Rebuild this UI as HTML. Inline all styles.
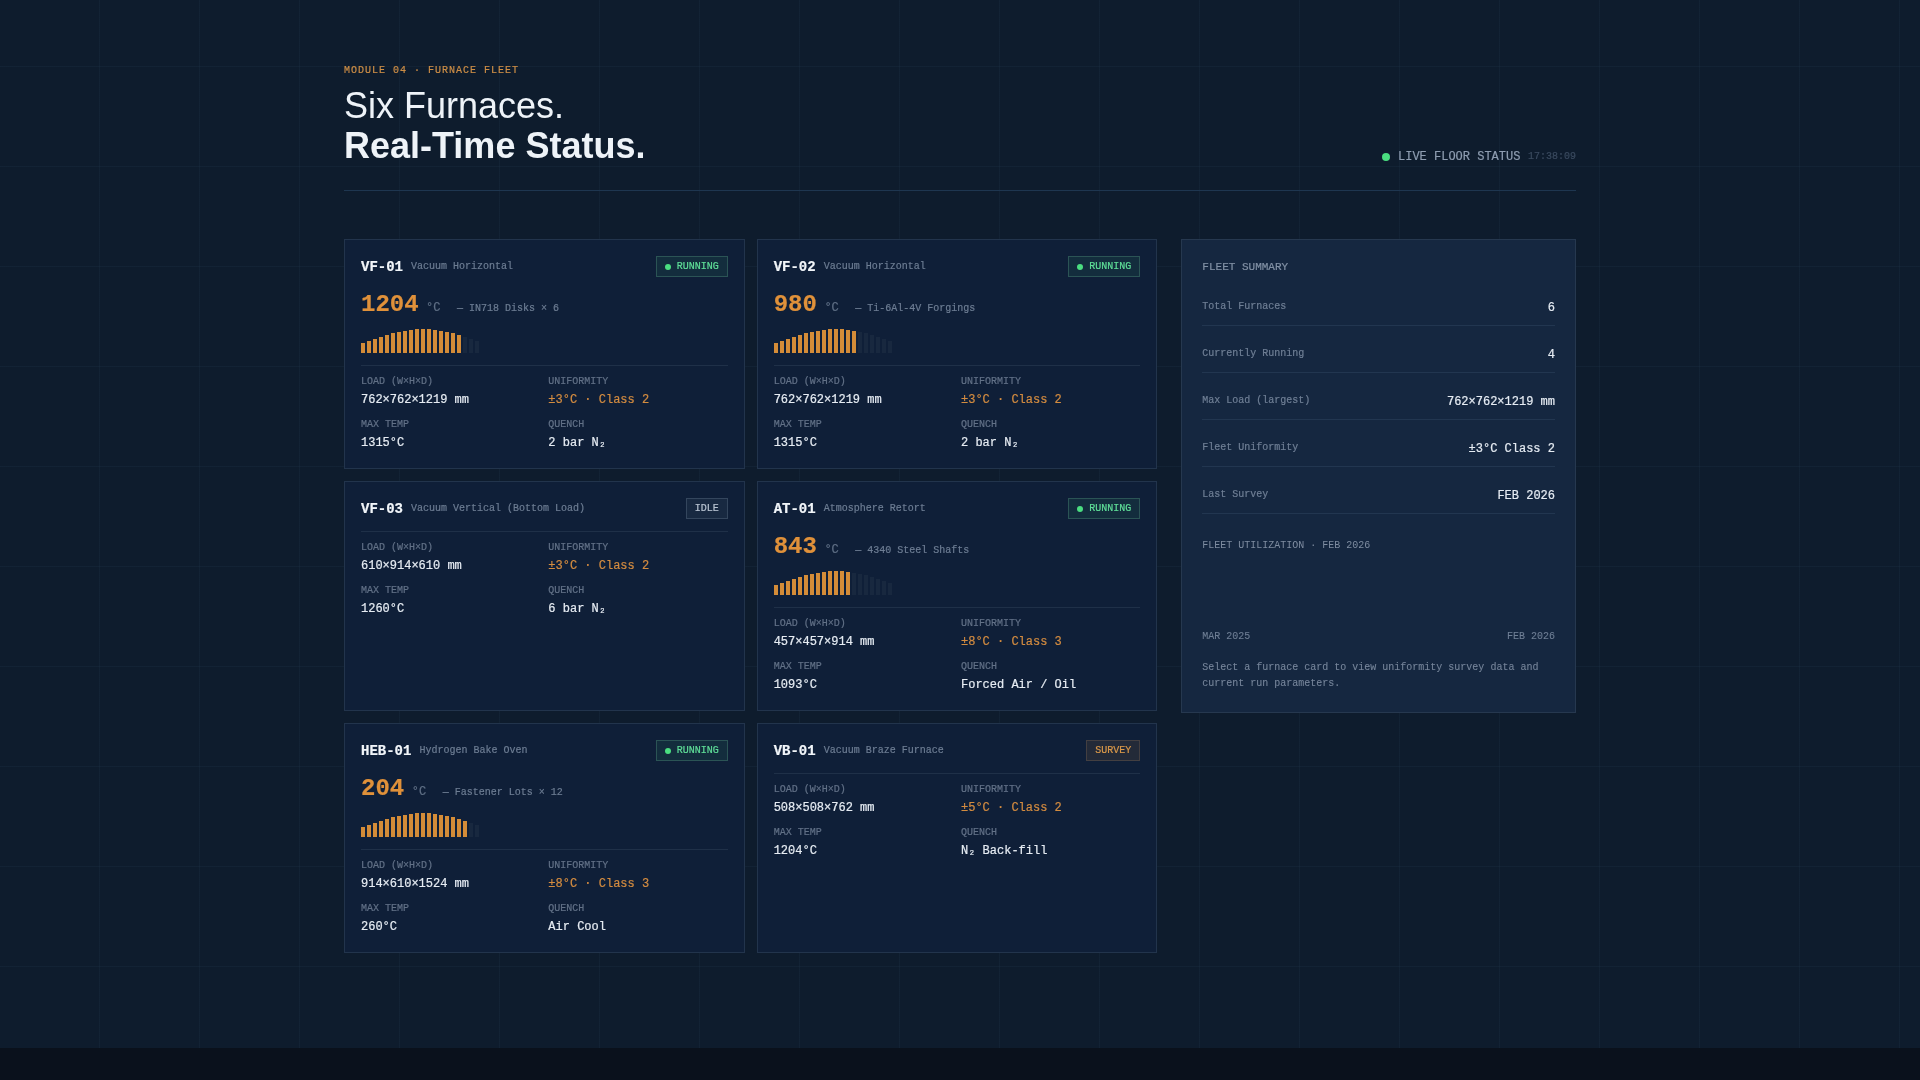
<!DOCTYPE html>
<html><head><meta charset="utf-8">
<style>
*{box-sizing:border-box;margin:0;padding:0}
html,body{width:1920px;height:1080px;overflow:hidden;background:#0a111c}
body{position:relative;font-family:"Liberation Mono",monospace;color:#e6ecf3;will-change:transform;-webkit-text-stroke-width:0.2px}
.h1{-webkit-text-stroke-width:0}
.sec{position:absolute;left:0;top:0;width:1920px;height:1048px;background-color:#0e1c2d;
background-image:linear-gradient(to right, rgba(110,150,190,0.05) 1px, transparent 1px),linear-gradient(to bottom, rgba(110,150,190,0.05) 1px, transparent 1px);
background-size:100px 100px;background-position:99px 66px}
.foot{position:absolute;left:0;top:1048px;width:1920px;height:32px;background:#0a111c}
.abs{position:absolute}
.eyebrow{left:344px;top:64.7px;font-size:10px;letter-spacing:1px;color:#cd8e46;line-height:12px;white-space:nowrap}
.h1{left:344px;top:86px;font-family:"Liberation Sans",sans-serif;font-size:36px;line-height:40px;color:#eef3f8;white-space:nowrap}
.h1 .l2{font-weight:700}
.live{left:1382px;top:148px;height:17px;display:flex;align-items:center;white-space:nowrap}
.live .dot{width:8px;height:8px;border-radius:50%;background:#4ade80;margin-right:8px}
.live .t{font-size:12px;color:#8e9db1}
.live .ts{font-size:10px;color:#3a4a5f;margin-left:7.5px}
.hr{left:344px;top:190px;width:1232px;height:1px;background:#1e3650}
.card{position:absolute;width:400.67px;height:230px;border:1px solid #22344c;background:#0f1f38}
.hd{position:absolute;left:16px;right:16px;top:16px;display:flex;justify-content:space-between;align-items:center;height:21px}
.hd .l{display:flex;align-items:baseline;white-space:nowrap}
.id{font-size:14px;font-weight:700;color:#f1f5f9}
.ty{font-size:10px;color:#6d7d93;margin-left:8px;position:relative;top:-2px}
.badge{height:21px;border:1px solid rgba(120,210,165,0.24);background:rgba(74,222,128,0.08);padding:0 8px;display:flex;align-items:center;font-size:10px;color:#5fdf98;white-space:nowrap}
.badge i{display:block;width:6px;height:6px;border-radius:50%;background:#4ade80;margin-right:6px}
.badge.idle{border-color:#34465d;background:rgba(120,140,170,0.09);color:#b9c4d2}
.badge.survey{border-color:rgba(180,140,100,0.22);background:rgba(212,144,58,0.1);color:#dc9a4a}
.tr{position:absolute;left:16px;top:50px;height:30px;width:360px;white-space:nowrap;display:flex;align-items:baseline}
.num{font-size:24px;font-weight:700;color:#e0913a;line-height:30px}
.unit{font-size:12px;color:#5f6f85;margin-left:7.5px}
.desc{font-size:10px;color:#6d7d93;margin-left:16.5px}
.bars{position:absolute;left:16px;top:89px;height:24px;display:flex;align-items:flex-end;gap:2px}
.bars span{display:block;width:4px;background:#d48c38}
.bars span.d{background:#18283f}
.specs{position:absolute;left:16px;right:16px;top:125px;border-top:1px solid #1f3048;padding-top:10px;display:grid;grid-template-columns:1fr 1fr;column-gap:8px;row-gap:0}
.specs.s2{top:49px}
.sp{height:43px}
.lb{font-size:10px;color:#627187;line-height:12px;height:12px;white-space:nowrap}
.vl{font-size:12px;color:#e6ecf3;line-height:14px;margin-top:5px;white-space:nowrap}
.vl.o{color:#d48c40}
.sum{position:absolute;left:1181.33px;top:239px;width:394.67px;height:474px;border:1px solid #26384f;background:#152740}
.sum .tt{position:absolute;left:20px;top:21px;font-size:11px;color:#8291a5;line-height:12px}
.row{position:absolute;left:20px;right:20px;height:47px;border-bottom:1px solid #223650}
.r1{top:39px}.r2{top:86px}.r3{top:133px}.r4{top:180px}.r5{top:227px}
.row .k{position:absolute;left:0;top:22.33px;font-size:10px;line-height:12px;color:#6f7f95;white-space:nowrap}
.row .v{position:absolute;right:0;top:21.8px;font-size:12px;line-height:14px;color:#e6ecf3;white-space:nowrap}
.util{position:absolute;left:20px;top:300px;font-size:10px;color:#7f8da1;-webkit-text-stroke-width:0;line-height:12px;white-space:nowrap}
.rng{position:absolute;left:20px;right:20px;top:391px;display:flex;justify-content:space-between;font-size:10px;color:#6f7f95;-webkit-text-stroke-width:0.1px;line-height:12px}
.note{position:absolute;left:20px;right:20px;top:420px;font-size:10px;line-height:16px;color:#76859a;-webkit-text-stroke-width:0.1px}

</style></head><body>
<div class="sec"></div>
<div class="foot"></div>
<div class="abs eyebrow">MODULE 04 · FURNACE FLEET</div>
<div class="abs h1"><div class="l1">Six Furnaces.</div><div class="l2">Real-Time Status.</div></div>
<div class="abs live"><span class="dot"></span><span class="t">LIVE FLOOR STATUS</span><span class="ts">17:38:09</span></div>
<div class="abs hr"></div>
<div class="card" style="left:344px;top:239px">
<div class="hd"><div class="l"><span class="id">VF-01</span><span class="ty">Vacuum Horizontal</span></div><div class="badge"><i></i>RUNNING</div></div>
<div class="tr"><span class="num">1204</span><span class="unit">°C</span><span class="desc">— IN718 Disks × 6</span></div>
<div class="bars"><span style="height:10px"></span><span style="height:12px"></span><span style="height:14px"></span><span style="height:16px"></span><span style="height:18px"></span><span style="height:20px"></span><span style="height:21px"></span><span style="height:22px"></span><span style="height:23px"></span><span style="height:24px"></span><span style="height:24px"></span><span style="height:24px"></span><span style="height:23px"></span><span style="height:22px"></span><span style="height:21px"></span><span style="height:20px"></span><span style="height:18px"></span><span class="d" style="height:16px"></span><span class="d" style="height:14px"></span><span class="d" style="height:12px"></span></div>
<div class="specs">
<div class="sp"><div class="lb">LOAD (W×H×D)</div><div class="vl">762×762×1219 mm</div></div>
<div class="sp"><div class="lb">UNIFORMITY</div><div class="vl o">±3°C · Class 2</div></div>
<div class="sp"><div class="lb">MAX TEMP</div><div class="vl">1315°C</div></div>
<div class="sp"><div class="lb">QUENCH</div><div class="vl">2 bar N₂</div></div>
</div></div>
<div class="card" style="left:756.67px;top:239px">
<div class="hd"><div class="l"><span class="id">VF-02</span><span class="ty">Vacuum Horizontal</span></div><div class="badge"><i></i>RUNNING</div></div>
<div class="tr"><span class="num">980</span><span class="unit">°C</span><span class="desc">— Ti-6Al-4V Forgings</span></div>
<div class="bars"><span style="height:10px"></span><span style="height:12px"></span><span style="height:14px"></span><span style="height:16px"></span><span style="height:18px"></span><span style="height:20px"></span><span style="height:21px"></span><span style="height:22px"></span><span style="height:23px"></span><span style="height:24px"></span><span style="height:24px"></span><span style="height:24px"></span><span style="height:23px"></span><span style="height:22px"></span><span class="d" style="height:21px"></span><span class="d" style="height:20px"></span><span class="d" style="height:18px"></span><span class="d" style="height:16px"></span><span class="d" style="height:14px"></span><span class="d" style="height:12px"></span></div>
<div class="specs">
<div class="sp"><div class="lb">LOAD (W×H×D)</div><div class="vl">762×762×1219 mm</div></div>
<div class="sp"><div class="lb">UNIFORMITY</div><div class="vl o">±3°C · Class 2</div></div>
<div class="sp"><div class="lb">MAX TEMP</div><div class="vl">1315°C</div></div>
<div class="sp"><div class="lb">QUENCH</div><div class="vl">2 bar N₂</div></div>
</div></div>
<div class="card" style="left:344px;top:481px">
<div class="hd"><div class="l"><span class="id">VF-03</span><span class="ty">Vacuum Vertical (Bottom Load)</span></div><div class="badge idle">IDLE</div></div>
<div class="specs s2">
<div class="sp"><div class="lb">LOAD (W×H×D)</div><div class="vl">610×914×610 mm</div></div>
<div class="sp"><div class="lb">UNIFORMITY</div><div class="vl o">±3°C · Class 2</div></div>
<div class="sp"><div class="lb">MAX TEMP</div><div class="vl">1260°C</div></div>
<div class="sp"><div class="lb">QUENCH</div><div class="vl">6 bar N₂</div></div>
</div></div>
<div class="card" style="left:756.67px;top:481px">
<div class="hd"><div class="l"><span class="id">AT-01</span><span class="ty">Atmosphere Retort</span></div><div class="badge"><i></i>RUNNING</div></div>
<div class="tr"><span class="num">843</span><span class="unit">°C</span><span class="desc">— 4340 Steel Shafts</span></div>
<div class="bars"><span style="height:10px"></span><span style="height:12px"></span><span style="height:14px"></span><span style="height:16px"></span><span style="height:18px"></span><span style="height:20px"></span><span style="height:21px"></span><span style="height:22px"></span><span style="height:23px"></span><span style="height:24px"></span><span style="height:24px"></span><span style="height:24px"></span><span style="height:23px"></span><span class="d" style="height:22px"></span><span class="d" style="height:21px"></span><span class="d" style="height:20px"></span><span class="d" style="height:18px"></span><span class="d" style="height:16px"></span><span class="d" style="height:14px"></span><span class="d" style="height:12px"></span></div>
<div class="specs">
<div class="sp"><div class="lb">LOAD (W×H×D)</div><div class="vl">457×457×914 mm</div></div>
<div class="sp"><div class="lb">UNIFORMITY</div><div class="vl o">±8°C · Class 3</div></div>
<div class="sp"><div class="lb">MAX TEMP</div><div class="vl">1093°C</div></div>
<div class="sp"><div class="lb">QUENCH</div><div class="vl">Forced Air / Oil</div></div>
</div></div>
<div class="card" style="left:344px;top:723px">
<div class="hd"><div class="l"><span class="id">HEB-01</span><span class="ty">Hydrogen Bake Oven</span></div><div class="badge"><i></i>RUNNING</div></div>
<div class="tr"><span class="num">204</span><span class="unit">°C</span><span class="desc">— Fastener Lots × 12</span></div>
<div class="bars"><span style="height:10px"></span><span style="height:12px"></span><span style="height:14px"></span><span style="height:16px"></span><span style="height:18px"></span><span style="height:20px"></span><span style="height:21px"></span><span style="height:22px"></span><span style="height:23px"></span><span style="height:24px"></span><span style="height:24px"></span><span style="height:24px"></span><span style="height:23px"></span><span style="height:22px"></span><span style="height:21px"></span><span style="height:20px"></span><span style="height:18px"></span><span style="height:16px"></span><span class="d" style="height:14px"></span><span class="d" style="height:12px"></span></div>
<div class="specs">
<div class="sp"><div class="lb">LOAD (W×H×D)</div><div class="vl">914×610×1524 mm</div></div>
<div class="sp"><div class="lb">UNIFORMITY</div><div class="vl o">±8°C · Class 3</div></div>
<div class="sp"><div class="lb">MAX TEMP</div><div class="vl">260°C</div></div>
<div class="sp"><div class="lb">QUENCH</div><div class="vl">Air Cool</div></div>
</div></div>
<div class="card" style="left:756.67px;top:723px">
<div class="hd"><div class="l"><span class="id">VB-01</span><span class="ty">Vacuum Braze Furnace</span></div><div class="badge survey">SURVEY</div></div>
<div class="specs s2">
<div class="sp"><div class="lb">LOAD (W×H×D)</div><div class="vl">508×508×762 mm</div></div>
<div class="sp"><div class="lb">UNIFORMITY</div><div class="vl o">±5°C · Class 2</div></div>
<div class="sp"><div class="lb">MAX TEMP</div><div class="vl">1204°C</div></div>
<div class="sp"><div class="lb">QUENCH</div><div class="vl">N₂ Back-fill</div></div>
</div></div>
<div class="sum">
<div class="tt">FLEET SUMMARY</div>
<div class="row r1"><span class="k">Total Furnaces</span><span class="v">6</span></div>
<div class="row r2"><span class="k">Currently Running</span><span class="v">4</span></div>
<div class="row r3"><span class="k">Max Load (largest)</span><span class="v">762×762×1219 mm</span></div>
<div class="row r4"><span class="k">Fleet Uniformity</span><span class="v">±3°C Class 2</span></div>
<div class="row r5"><span class="k">Last Survey</span><span class="v">FEB 2026</span></div>
<div class="util">FLEET UTILIZATION · FEB 2026</div>
<div class="rng"><span>MAR 2025</span><span>FEB 2026</span></div>
<div class="note">Select a furnace card to view uniformity survey data and current run parameters.</div>
</div>
</body></html>
